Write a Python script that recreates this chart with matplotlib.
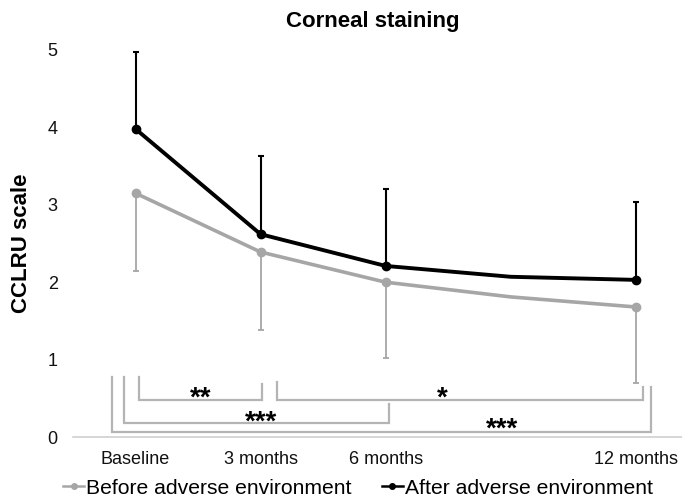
import numpy as np
import matplotlib.pyplot as plt
from matplotlib.lines import Line2D

# ── Data ──────────────────────────────────────────────────────────────
timepoints = ["Baseline", "3 months", "6 months", "", "12 months"]
before_mean = [3.15, 2.39, 2.00, 1.81, 1.68]
after_mean = [3.98, 2.62, 2.21, 2.07, 2.03]
before_sd = [1.01, 1.01, 0.98, np.nan, 0.98]
after_sd = [0.99, 1.01, 0.99, np.nan, 1.00]

# significance brackets: (x_left, x_right, y_left_top, y_right_top, y_base, label, label_x, label_y)
brackets = [
    (0.03, 1.01, 0.78, 0.68, 0.48, "**", 0.52, 0.50),
    (1.13, 4.06, 0.71, 0.65, 0.48, "*", 2.45, 0.49),
    (-0.09, 2.03, 0.78, 0.43, 0.18, "***", 1.00, 0.185),
    (-0.19, 4.12, 0.78, 0.65, 0.065, "***", 2.93, 0.095),
]

GRAY = "#a6a6a6"
BRACKET = "#b4b4b4"
BLACK = "#000000"
FONT = ["Liberation Sans", "DejaVu Sans"]

plt.rcParams["font.family"] = FONT

fig = plt.figure(figsize=(6.82, 5.0), dpi=100)
ax = fig.add_axes([73 / 682, 63 / 500, 1 - 73 / 682, 387 / 500])

x = np.arange(len(timepoints))
before = np.array(before_mean)
after = np.array(after_mean)
bsd = np.array(before_sd)
asd = np.array(after_sd)
has_err = ~np.isnan(bsd)

# error bars: gray downward, black upward
ax.errorbar(x[has_err], before[has_err], yerr=[bsd[has_err], np.zeros(has_err.sum())],
            fmt="none", ecolor=GRAY, elinewidth=1.3, capsize=2, capthick=1.3, zorder=2)
ax.plot(x, before, color=GRAY, lw=2.6, zorder=3)
ax.plot(x[has_err], before[has_err], "o", color=GRAY, ms=6, zorder=3)

ax.errorbar(x[has_err], after[has_err], yerr=[np.zeros(has_err.sum()), asd[has_err]],
            fmt="none", ecolor=BLACK, elinewidth=1.5, capsize=2, capthick=1.5, zorder=4)
ax.plot(x, after, color=BLACK, lw=2.8, zorder=5)
ax.plot(x[has_err], after[has_err], "o", color=BLACK, ms=6, zorder=5)

# significance brackets
for xl, xr, yl, yr, yb, lab, lx, ly in brackets:
    ax.plot([xl, xl, xr, xr], [yl, yb, yb, yr], color=BRACKET, lw=1.6,
            solid_joinstyle="miter", zorder=1, clip_on=False)
    ax.text(lx, ly, lab, ha="center", va="center", fontsize=20,
            fontweight="bold", color=BLACK)

ax.set_xlim(-0.5, 4.37)
ax.set_ylim(0, 5)
ax.set_yticks([0, 1, 2, 3, 4, 5])
ax.set_xticks(x)
ax.set_xticklabels(timepoints)
ax.tick_params(axis="both", length=0, labelsize=13, colors="#111111")
ax.tick_params(axis="x", pad=10)
ax.tick_params(axis="y", pad=11)

for side in ["top", "right", "left"]:
    ax.spines[side].set_visible(False)
ax.spines["bottom"].set_color("#d0d0d0")
ax.spines["bottom"].set_linewidth(1.2)

ax.set_ylabel("CCLRU scale", fontsize=16, fontweight="bold", va="center")
ax.yaxis.set_label_coords(-(73 - 22) / 609, 0.5)
fig.text(373 / 682, 1 - 22 / 500, "Corneal staining", ha="center", va="center",
         fontsize=16, fontweight="bold")

handles = [
    Line2D([], [], color=GRAY, lw=1.8, marker="o", ms=4),
    Line2D([], [], color=BLACK, lw=1.8, marker="o", ms=4),
]
fig.legend(handles, ["Before adverse environment", "After adverse environment"],
           loc="center", bbox_to_anchor=(358 / 682, 1 - 488 / 500), ncol=2,
           frameon=False, fontsize=15.2, handlelength=1.0, handletextpad=0.1,
           columnspacing=1.4, borderaxespad=0)

fig.savefig("out.png", dpi=100)
